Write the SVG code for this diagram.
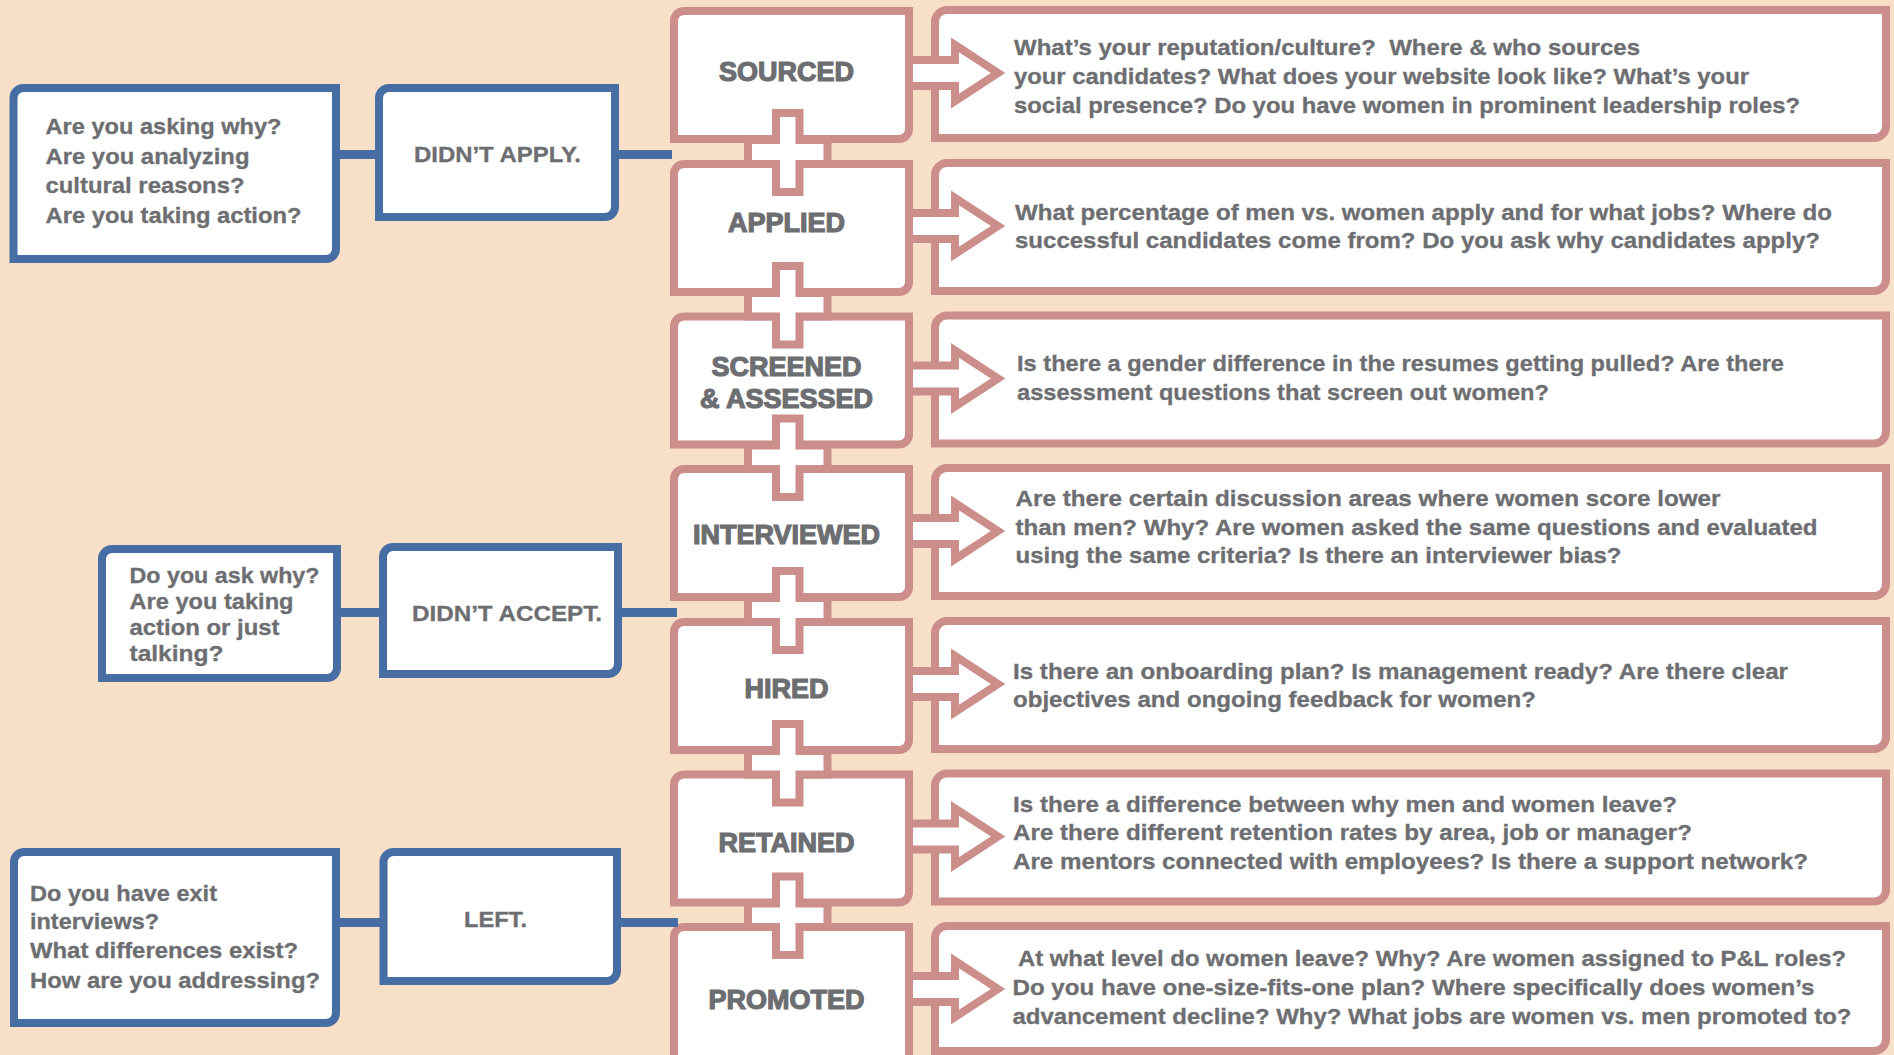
<svg xmlns="http://www.w3.org/2000/svg" width="1894" height="1055" viewBox="0 0 1894 1055">
<style>
.pk{fill:#fff;stroke:#cc8e8a;stroke-width:8}
.bl{fill:#fff;stroke:#466ea5;stroke-width:8}
.lbl{font-family:"Liberation Sans",Arial,sans-serif;font-weight:bold;font-size:27px;fill:#6d6e71;stroke:#6d6e71;stroke-width:1.2;text-anchor:middle}
.qt{font-family:"Liberation Sans",Arial,sans-serif;font-weight:bold;font-size:22px;fill:#6d6e71;stroke:#6d6e71;stroke-width:0.3}
.bline{stroke:#466ea5;stroke-width:9;fill:none}
.pc{fill:#fff;stroke:#cc8e8a;stroke-width:8;stroke-linejoin:miter}
</style>
<rect x="0" y="0" width="1894" height="1055" fill="#f8dfc8"/>

<!-- blue side nodes -->
<g id="q-didnt-apply">
<path class="bl" d="M13.5,98 A10,10 0 0 1 23.5,88 H336 V249 A10,10 0 0 1 326,259 H13.5 Z"/>
<text class="qt" x="45.5" y="133.5" textLength="236" lengthAdjust="spacingAndGlyphs">Are you asking why?</text>
<text class="qt" x="45.5" y="163.5" textLength="204" lengthAdjust="spacingAndGlyphs">Are you analyzing</text>
<text class="qt" x="45.5" y="193" textLength="199" lengthAdjust="spacingAndGlyphs">cultural reasons?</text>
<text class="qt" x="45.5" y="222.5" textLength="256" lengthAdjust="spacingAndGlyphs">Are you taking action?</text>
</g>
<g id="didnt-apply">
<path class="bl" d="M379,98 A10,10 0 0 1 389,88 H615 V207 A10,10 0 0 1 605,217 H379 Z"/>
<text class="qt" x="414" y="161.5" textLength="167" lengthAdjust="spacingAndGlyphs">DIDN’T APPLY.</text>
</g>
<g id="q-didnt-accept">
<path class="bl" d="M102,559 A10,10 0 0 1 112,549 H337 V668 A10,10 0 0 1 327,678 H102 Z"/>
<text class="qt" x="129.5" y="583" textLength="190" lengthAdjust="spacingAndGlyphs">Do you ask why?</text>
<text class="qt" x="129.5" y="609" textLength="164" lengthAdjust="spacingAndGlyphs">Are you taking</text>
<text class="qt" x="129.5" y="635" textLength="150" lengthAdjust="spacingAndGlyphs">action or just</text>
<text class="qt" x="129.5" y="661" textLength="94" lengthAdjust="spacingAndGlyphs">talking?</text>
</g>
<g id="didnt-accept">
<path class="bl" d="M383,557 A10,10 0 0 1 393,547 H618 V664 A10,10 0 0 1 608,674 H383 Z"/>
<text class="qt" x="412" y="620.5" textLength="190" lengthAdjust="spacingAndGlyphs">DIDN’T ACCEPT.</text>
</g>
<g id="q-left">
<path class="bl" d="M14,862 A10,10 0 0 1 24,852 H336 V1013 A10,10 0 0 1 326,1023 H14 Z"/>
<text class="qt" x="30" y="900.5" textLength="187" lengthAdjust="spacingAndGlyphs">Do you have exit</text>
<text class="qt" x="30" y="929" textLength="129" lengthAdjust="spacingAndGlyphs">interviews?</text>
<text class="qt" x="30" y="958" textLength="268" lengthAdjust="spacingAndGlyphs">What differences exist?</text>
<text class="qt" x="30" y="987.5" textLength="290" lengthAdjust="spacingAndGlyphs">How are you addressing?</text>
</g>
<g id="left">
<path class="bl" d="M383.5,862 A10,10 0 0 1 393.5,852 H617 V971 A10,10 0 0 1 607,981 H383.5 Z"/>
<text class="qt" x="464" y="927" textLength="63" lengthAdjust="spacingAndGlyphs">LEFT.</text>
</g>

<!-- stage nodes -->
<g id="sourced">
<path class="pk" d="M674,21 A10,10 0 0 1 684,11 H909 V129 A10,10 0 0 1 899,139 H674 Z"/>
<text class="lbl" x="786.5" y="81">SOURCED</text>
</g>
<g id="applied">
<path class="pk" d="M674,174 A10,10 0 0 1 684,164 H909 V282 A10,10 0 0 1 899,292 H674 Z"/>
<text class="lbl" x="786.5" y="232">APPLIED</text>
</g>
<g id="screened">
<path class="pk" d="M674,326.5 A10,10 0 0 1 684,316.5 H909 V434.5 A10,10 0 0 1 899,444.5 H674 Z"/>
<text class="lbl" x="786.5" y="376">SCREENED</text>
<text class="lbl" x="786.5" y="407.5">&amp; ASSESSED</text>
</g>
<g id="interviewed">
<path class="pk" d="M674,479 A10,10 0 0 1 684,469 H909 V587 A10,10 0 0 1 899,597 H674 Z"/>
<text class="lbl" x="786.5" y="543.5">INTERVIEWED</text>
</g>
<g id="hired">
<path class="pk" d="M674,632 A10,10 0 0 1 684,622 H909 V740 A10,10 0 0 1 899,750 H674 Z"/>
<text class="lbl" x="786.5" y="698">HIRED</text>
</g>
<g id="retained">
<path class="pk" d="M674,784.5 A10,10 0 0 1 684,774.5 H909 V892.5 A10,10 0 0 1 899,902.5 H674 Z"/>
<text class="lbl" x="786.5" y="851.5">RETAINED</text>
</g>
<g id="promoted">
<path class="pk" d="M674,937 A10,10 0 0 1 684,927 H909 V1060 A10,10 0 0 1 899,1070 H674 Z"/>
<text class="lbl" x="786.5" y="1009">PROMOTED</text>
</g>

<!-- question nodes -->
<g id="q-sourced">
<path class="pk" d="M935,22 A12,12 0 0 1 947,10 H1886 V126 A12,12 0 0 1 1874,138 H935 Z"/>
<text class="qt" x="1014" y="55" textLength="626" lengthAdjust="spacingAndGlyphs">What’s your reputation/culture?&#160; Where &amp; who sources</text>
<text class="qt" x="1014" y="84" textLength="735" lengthAdjust="spacingAndGlyphs">your candidates? What does your website look like? What’s your</text>
<text class="qt" x="1014" y="113" textLength="786" lengthAdjust="spacingAndGlyphs">social presence? Do you have women in prominent leadership roles?</text>
</g>
<g id="q-applied">
<path class="pk" d="M935,175 A12,12 0 0 1 947,163 H1886 V279 A12,12 0 0 1 1874,291 H935 Z"/>
<text class="qt" x="1015" y="219.5" textLength="817" lengthAdjust="spacingAndGlyphs">What percentage of men vs. women apply and for what jobs? Where do</text>
<text class="qt" x="1015" y="248" textLength="805" lengthAdjust="spacingAndGlyphs">successful candidates come from? Do you ask why candidates apply?</text>
</g>
<g id="q-screened">
<path class="pk" d="M935,327.5 A12,12 0 0 1 947,315.5 H1886 V431.5 A12,12 0 0 1 1874,443.5 H935 Z"/>
<text class="qt" x="1017" y="371" textLength="767" lengthAdjust="spacingAndGlyphs">Is there a gender difference in the resumes getting pulled? Are there</text>
<text class="qt" x="1017" y="399.5" textLength="532" lengthAdjust="spacingAndGlyphs">assessment questions that screen out women?</text>
</g>
<g id="q-interviewed">
<path class="pk" d="M935,480 A12,12 0 0 1 947,468 H1886 V584 A12,12 0 0 1 1874,596 H935 Z"/>
<text class="qt" x="1015.5" y="506" textLength="705" lengthAdjust="spacingAndGlyphs">Are there certain discussion areas where women score lower</text>
<text class="qt" x="1015.5" y="534.5" textLength="802" lengthAdjust="spacingAndGlyphs">than men? Why? Are women asked the same questions and evaluated</text>
<text class="qt" x="1015.5" y="563" textLength="606" lengthAdjust="spacingAndGlyphs">using the same criteria? Is there an interviewer bias?</text>
</g>
<g id="q-hired">
<path class="pk" d="M935,633 A12,12 0 0 1 947,621 H1886 V737 A12,12 0 0 1 1874,749 H935 Z"/>
<text class="qt" x="1013" y="678.5" textLength="775" lengthAdjust="spacingAndGlyphs">Is there an onboarding plan? Is management ready? Are there clear</text>
<text class="qt" x="1013" y="707" textLength="523" lengthAdjust="spacingAndGlyphs">objectives and ongoing feedback for women?</text>
</g>
<g id="q-retained">
<path class="pk" d="M935,785.5 A12,12 0 0 1 947,773.5 H1886 V889.5 A12,12 0 0 1 1874,901.5 H935 Z"/>
<text class="qt" x="1013" y="811.5" textLength="664" lengthAdjust="spacingAndGlyphs">Is there a difference between why men and women leave?</text>
<text class="qt" x="1013" y="840" textLength="679" lengthAdjust="spacingAndGlyphs">Are there different retention rates by area, job or manager?</text>
<text class="qt" x="1013" y="868.5" textLength="795" lengthAdjust="spacingAndGlyphs">Are mentors connected with employees? Is there a support network?</text>
</g>
<g id="q-promoted">
<path class="pk" d="M935,938 A12,12 0 0 1 947,926 H1886 V1039 A12,12 0 0 1 1874,1051 H935 Z"/>
<text class="qt" x="1018" y="966" textLength="828" lengthAdjust="spacingAndGlyphs">At what level do women leave? Why? Are women assigned to P&amp;L roles?</text>
<text class="qt" x="1012.5" y="995" textLength="802" lengthAdjust="spacingAndGlyphs">Do you have one-size-fits-one plan? Where specifically does women’s</text>
<text class="qt" x="1012.5" y="1023.5" textLength="839" lengthAdjust="spacingAndGlyphs">advancement decline? Why? What jobs are women vs. men promoted to?</text>
</g>

<!-- connectors -->
<g id="connectors">
<line class="bline" x1="336" y1="154.5" x2="379" y2="154.5"/>
<line class="bline" x1="615" y1="154.5" x2="672" y2="154.5"/>
<line class="bline" x1="337" y1="612.5" x2="383" y2="612.5"/>
<line class="bline" x1="618" y1="612.5" x2="677" y2="612.5"/>
<line class="bline" x1="336" y1="922.5" x2="383.5" y2="922.5"/>
<line class="bline" x1="617" y1="922.5" x2="678" y2="922.5"/>

<path class="pc" d="M776,113 H799.5 V140 H827.5 V164 H799.5 V192 H776 V164 H748 V140 H776 Z"/>
<path class="pc" d="M776,266 H799.5 V293 H827.5 V316.5 H799.5 V344.5 H776 V316.5 H748 V293 H776 Z"/>
<path class="pc" d="M776,418.5 H799.5 V445.5 H827.5 V469 H799.5 V497 H776 V469 H748 V445.5 H776 Z"/>
<path class="pc" d="M776,571 H799.5 V598 H827.5 V622 H799.5 V650 H776 V622 H748 V598 H776 Z"/>
<path class="pc" d="M776,724 H799.5 V751 H827.5 V774.5 H799.5 V802.5 H776 V774.5 H748 V751 H776 Z"/>
<path class="pc" d="M776,876.5 H799.5 V903.5 H827.5 V927 H799.5 V955 H776 V927 H748 V903.5 H776 Z"/>

<path class="pc" d="M909,60 H955 V45 L998,73 L955,101 V86 H909 Z"/>
<path class="pc" d="M909,213 H955 V198 L998,226 L955,254 V239 H909 Z"/>
<path class="pc" d="M909,365.5 H955 V350.5 L998,378.5 L955,406.5 V391.5 H909 Z"/>
<path class="pc" d="M909,518 H955 V503 L998,531 L955,559 V544 H909 Z"/>
<path class="pc" d="M909,671 H955 V656 L998,684 L955,712 V697 H909 Z"/>
<path class="pc" d="M909,823.5 H955 V808.5 L998,836.5 L955,864.5 V849.5 H909 Z"/>
<path class="pc" d="M909,976 H955 V961 L998,989 L955,1017 V1002 H909 Z"/>
</g>
</svg>
